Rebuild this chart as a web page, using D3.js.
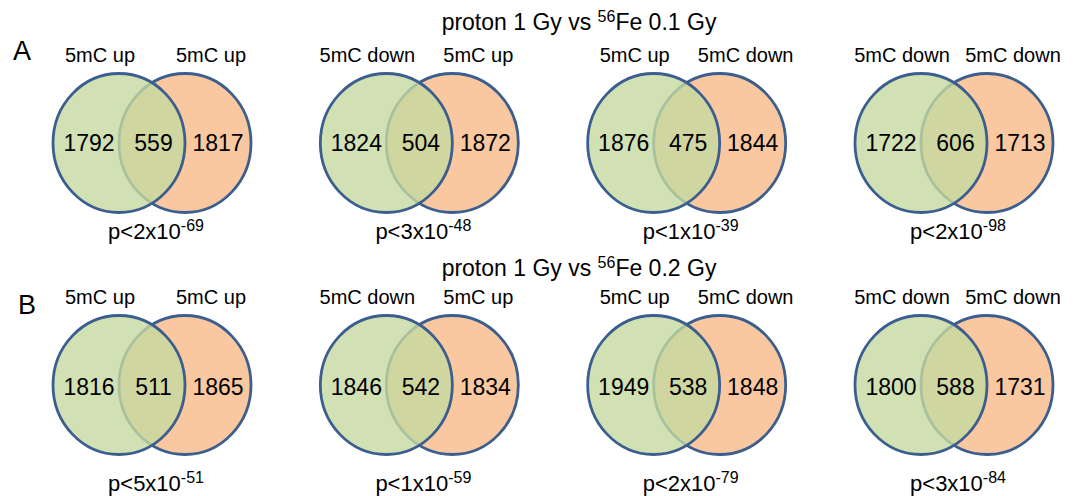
<!DOCTYPE html>
<html>
<head>
<meta charset="utf-8">
<script src="https://cdn.jsdelivr.net/npm/d3@7/dist/d3.min.js"></script>
<style>
  body { margin: 0; background: #fff; }
  text { font-family: "Liberation Sans", Arial, sans-serif; fill: #000; }
</style>
</head>
<body>
<div id="chart"></div>
<script>
// Data
const rowLetters = ["A", "B"];
const rowDoses = ["0.1 Gy", "0.2 Gy"];
const leftLabels = ["5mC up", "5mC down", "5mC up", "5mC down"];
const rightLabels = ["5mC up", "5mC up", "5mC down", "5mC down"];
const leftOnly = [1792, 1824, 1876, 1722, 1816, 1846, 1949, 1800];
const overlap = [559, 504, 475, 606, 511, 542, 538, 588];
const rightOnly = [1817, 1872, 1844, 1713, 1865, 1834, 1848, 1731];
const pMantissa = [2, 3, 1, 2, 5, 1, 2, 3];
const pExponent = [-69, -48, -39, -98, -51, -59, -79, -84];

const panels = [];
rowLetters.forEach((_, r) =>
  leftLabels.forEach((_, c) => {
    const i = r * leftLabels.length + c;
    panels.push({
      r, c,
      left: leftLabels[c], right: rightLabels[c],
      a: leftOnly[i], ab: overlap[i], b: rightOnly[i],
      pm: pMantissa[i], pe: pExponent[i]
    });
  })
);

const svg = d3
  .select("#chart")
  .append("svg")
  .attr("width", 1081)
  .attr("height", 496);

// Scales
const x = d3.scalePoint().domain(d3.range(leftLabels.length)).range([119, 921]);
const y = d3.scalePoint().domain(d3.range(rowLetters.length)).range([0, 242]);

const rx = 66, ry = 69.5, shift = 66, cy0 = 143;
const pGap = [96, 106];
const stroke = "#3B5E8F";

// Row titles and letters
const rows = svg
  .selectAll(".row")
  .data(rowLetters)
  .enter()
  .append("g")
  .attr("class", "row")
  .attr("transform", (d, i) => `translate(0,${y(i)})`);

const title = rows
  .append("text")
  .attr("x", 579)
  .attr("y", (d, i) => 30 + i * 4)
  .attr("text-anchor", "middle")
  .style("font-size", "23px");
title.append("tspan").text("proton 1 Gy vs ");
title.append("tspan").attr("dy", -8).style("font-size", "16px").text("56");
title.append("tspan").attr("dy", 8).text((d, i) => "Fe " + rowDoses[i]);

rows
  .append("text")
  .attr("x", (d, i) => 13 + i * 5)
  .attr("y", (d, i) => 60 + i * 12)
  .style("font-size", "27px")
  .text((d) => d);

// Venn panels
const g = svg
  .selectAll(".venn")
  .data(panels)
  .enter()
  .append("g")
  .attr("class", "venn")
  .attr("transform", (d) => `translate(${x(d.c)},${y(d.r)})`);

g.append("ellipse")
  .attr("cx", shift)
  .attr("cy", cy0)
  .attr("rx", rx)
  .attr("ry", ry)
  .attr("fill", "#F9C8A0")
  .attr("stroke", stroke)
  .attr("stroke-width", 2.8);

g.append("ellipse")
  .attr("cx", 0)
  .attr("cy", cy0)
  .attr("rx", rx)
  .attr("ry", ry)
  .attr("fill", "#C5D9A0")
  .attr("fill-opacity", 0.8)
  .attr("stroke", stroke)
  .attr("stroke-width", 2.8);

// Set labels
g.append("text")
  .attr("x", -19)
  .attr("y", 62)
  .attr("text-anchor", "middle")
  .style("font-size", "20px")
  .text((d) => d.left);

g.append("text")
  .attr("x", 92)
  .attr("y", 62)
  .attr("text-anchor", "middle")
  .style("font-size", "20px")
  .text((d) => d.right);

// Counts
const counts = [
  ["a", -30],
  ["ab", 34.5],
  ["b", 99]
];
counts.forEach(([key, dx]) => {
  g.append("text")
    .attr("x", dx)
    .attr("y", (d) => 151 + d.r * 2)
    .attr("text-anchor", "middle")
    .style("font-size", "23px")
    .text((d) => d[key]);
});

// p-values
const p = g
  .append("text")
  .attr("x", 37)
  .attr("y", (d) => cy0 + pGap[d.r])
  .attr("text-anchor", "middle")
  .style("font-size", "22px");
p.append("tspan").text((d) => `p<${d.pm}x10`);
p.append("tspan")
  .attr("dy", -8)
  .style("font-size", "16px")
  .text((d) => d.pe);
</script>
</body>
</html>
